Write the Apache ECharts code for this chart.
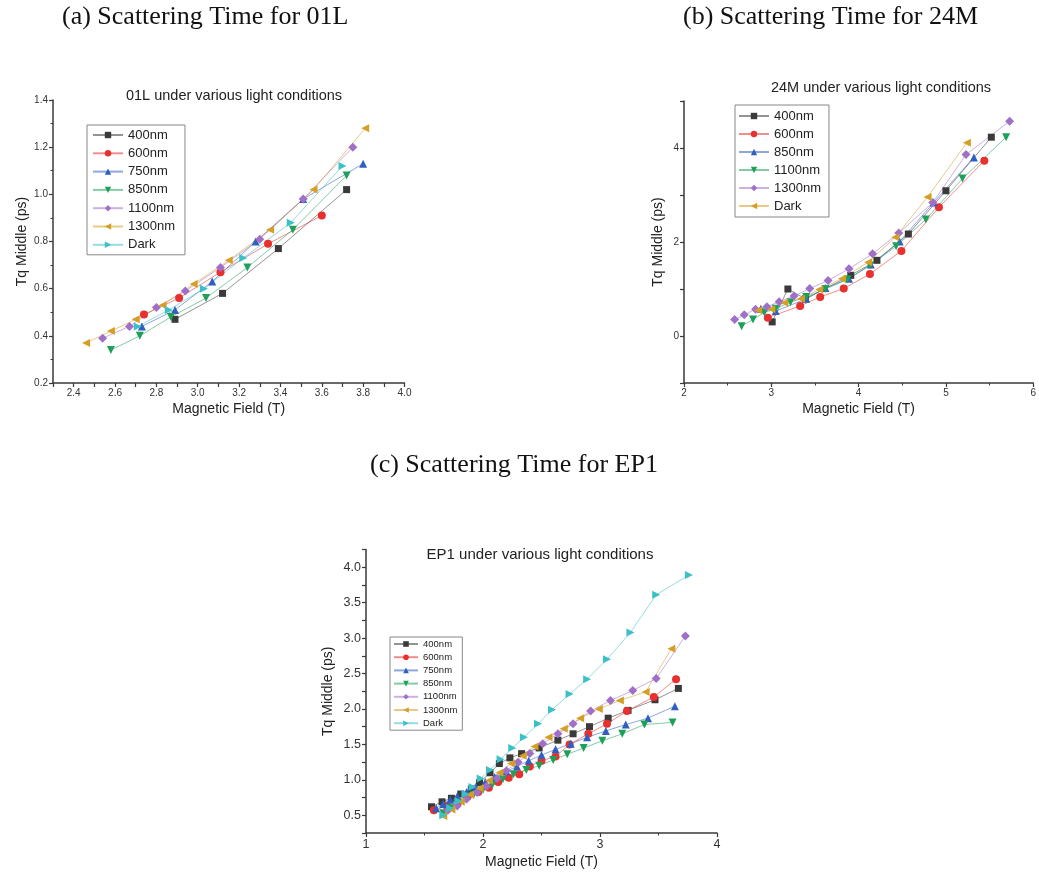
<!DOCTYPE html>
<html><head><meta charset="utf-8">
<script src="https://cdn.jsdelivr.net/npm/echarts@6/dist/echarts.min.js"></script>
<style>html,body{margin:0;padding:0;background:#fff}#c{width:1039px;height:880px}</style>
</head><body><div id="c"></div>
<script>
// ---------- Panel (a): 01L ----------
const a400  = [[2.89,0.47],[3.12,0.58],[3.39,0.77],[3.72,1.02]];
const a600  = [[2.74,0.49],[2.91,0.56],[3.11,0.67],[3.34,0.79],[3.60,0.91]];
const a750  = [[2.73,0.44],[2.89,0.51],[3.07,0.63],[3.28,0.80],[3.51,0.98],[3.80,1.13]];
const a850  = [[2.58,0.34],[2.72,0.40],[2.87,0.48],[3.04,0.56],[3.24,0.69],[3.46,0.85],[3.72,1.08]];
const a1100 = [[2.54,0.39],[2.67,0.44],[2.80,0.52],[2.94,0.59],[3.11,0.69],[3.30,0.81],[3.51,0.98],[3.75,1.20]];
const a1300 = [[2.46,0.37],[2.58,0.42],[2.70,0.47],[2.83,0.53],[2.98,0.62],[3.15,0.72],[3.35,0.85],[3.56,1.02],[3.81,1.28]];
const aDark = [[2.71,0.44],[2.86,0.51],[3.03,0.60],[3.22,0.73],[3.45,0.88],[3.70,1.12]];

// ---------- Panel (b): 24M ----------
const b400  = [[3.01,0.30],[3.19,1.00],[3.39,0.79],[3.91,1.29],[4.21,1.61],[4.57,2.17],[5.00,3.09],[5.52,4.23]];
const b600  = [[2.96,0.39],[3.33,0.64],[3.56,0.83],[3.83,1.01],[4.13,1.32],[4.49,1.81],[4.92,2.74],[5.44,3.73]];
const b850  = [[2.88,0.58],[3.05,0.53],[3.40,0.79],[3.62,1.02],[3.89,1.22],[4.14,1.52],[4.47,2.01],[4.86,2.84],[5.32,3.80]];
const b1100 = [[2.66,0.21],[2.79,0.35],[2.92,0.50],[3.05,0.58],[3.22,0.72],[3.40,0.83],[3.62,1.00],[3.87,1.20],[4.13,1.50],[4.43,1.91],[4.77,2.48],[5.19,3.35],[5.69,4.23]];
const b1300 = [[2.58,0.35],[2.69,0.45],[2.82,0.57],[2.95,0.62],[3.09,0.73],[3.26,0.85],[3.44,1.01],[3.65,1.18],[3.89,1.43],[4.16,1.75],[4.46,2.19],[4.85,2.84],[5.23,3.86],[5.73,4.57]];
const bDark = [[2.85,0.55],[3.00,0.57],[3.15,0.71],[3.34,0.79],[3.55,0.99],[3.81,1.22],[4.11,1.57],[4.42,2.10],[4.79,2.96],[5.24,4.11]];

// ---------- Panel (c): EP1 ----------
const c400  = [[1.56,0.62],[1.65,0.69],[1.73,0.74],[1.81,0.80],[1.90,0.87],[1.97,0.96],[2.06,1.10],[2.14,1.23],[2.23,1.31],[2.33,1.37],[2.48,1.45],[2.64,1.56],[2.77,1.65],[2.91,1.75],[3.07,1.87],[3.24,1.98],[3.47,2.13],[3.67,2.29]];
const c600  = [[1.58,0.57],[1.69,0.63],[1.79,0.69],[1.87,0.77],[1.96,0.83],[2.05,0.89],[2.13,0.97],[2.22,1.03],[2.31,1.08],[2.40,1.19],[2.50,1.27],[2.62,1.33],[2.74,1.50],[2.90,1.65],[3.06,1.79],[3.23,1.97],[3.46,2.17],[3.65,2.42]];
const c750  = [[1.60,0.60],[1.66,0.66],[1.72,0.72],[1.78,0.77],[1.86,0.83],[1.94,0.90],[2.02,0.97],[2.10,1.04],[2.20,1.12],[2.29,1.19],[2.39,1.27],[2.50,1.35],[2.62,1.43],[2.75,1.51],[2.89,1.60],[3.05,1.69],[3.22,1.78],[3.41,1.87],[3.64,2.04]];
const c850  = [[1.66,0.53],[1.72,0.60],[1.78,0.67],[1.85,0.73],[1.92,0.79],[2.00,0.86],[2.08,0.93],[2.17,1.01],[2.26,1.08],[2.37,1.14],[2.48,1.20],[2.60,1.28],[2.72,1.36],[2.86,1.45],[3.02,1.55],[3.19,1.65],[3.38,1.78],[3.62,1.81]];
const c1100 = [[1.70,0.57],[1.78,0.63],[1.86,0.73],[1.95,0.82],[2.03,0.91],[2.12,1.02],[2.20,1.13],[2.30,1.25],[2.40,1.37],[2.51,1.51],[2.64,1.65],[2.77,1.79],[2.92,1.97],[3.09,2.12],[3.28,2.26],[3.48,2.43],[3.73,3.03]];
const c1300 = [[1.66,0.49],[1.73,0.58],[1.81,0.69],[1.89,0.79],[1.97,0.88],[2.05,0.99],[2.14,1.10],[2.24,1.23],[2.34,1.34],[2.44,1.47],[2.56,1.60],[2.69,1.72],[2.83,1.87],[2.99,2.00],[3.17,2.12],[3.39,2.24],[3.61,2.85]];
const cDark = [[1.66,0.50],[1.72,0.60],[1.79,0.70],[1.85,0.80],[1.91,0.90],[1.98,1.02],[2.06,1.14],[2.15,1.29],[2.25,1.45],[2.35,1.60],[2.47,1.79],[2.59,1.99],[2.74,2.21],[2.89,2.42],[3.06,2.70],[3.26,3.08],[3.48,3.61],[3.76,3.89]];

// names shown in each legend
const namesA = ['400nm','600nm','750nm','850nm','1100nm','1300nm','Dark'];
const namesB = ['400nm','600nm','850nm','1100nm','1300nm','Dark'];
const namesC = ['400nm','600nm','750nm','850nm','1100nm','1300nm','Dark'];

const SANS = 'Liberation Sans, Arial, sans-serif';
const SERIF = 'Liberation Serif, Times New Roman, serif';
const ST = {
  sq: {color:'#3a3a3a', symbol:'rect', size:7},
  ci: {color:'#e8302e', symbol:'circle', size:8},
  up: {color:'#2f5fbf', symbol:'triangle', size:8},
  dn: {color:'#1fa05a', symbol:'path://M0,0L10,0L5,9Z', size:8},
  di: {color:'#a070c8', symbol:'diamond', size:9},
  lt: {color:'#d59f25', symbol:'path://M9,0L9,10L0,5Z', size:8},
  rt: {color:'#3cc0c8', symbol:'path://M0,0L0,10L9,5Z', size:8}
};

function ser(p, idx, name, data, st){
  return {
    type:'line', name: p + '_' + name, xAxisIndex: idx, yAxisIndex: idx,
    data: data, symbol: st.symbol, symbolSize: st.size, showAllSymbol: true,
    itemStyle: {color: st.color, opacity: 1},
    lineStyle: {color: st.color, width: 1, opacity: 0.55},
    emphasis: {disabled: true}, animation: false
  };
}

const series = [
  ser('a',0,'400nm',a400,ST.sq), ser('a',0,'600nm',a600,ST.ci), ser('a',0,'750nm',a750,ST.up),
  ser('a',0,'850nm',a850,ST.dn), ser('a',0,'1100nm',a1100,ST.di), ser('a',0,'1300nm',a1300,ST.lt),
  ser('a',0,'Dark',aDark,ST.rt),
  ser('b',1,'400nm',b400,ST.sq), ser('b',1,'600nm',b600,ST.ci), ser('b',1,'850nm',b850,ST.up),
  ser('b',1,'1100nm',b1100,ST.dn), ser('b',1,'1300nm',b1300,ST.di), ser('b',1,'Dark',bDark,ST.lt),
  ser('c',2,'400nm',c400,ST.sq), ser('c',2,'600nm',c600,ST.ci), ser('c',2,'750nm',c750,ST.up),
  ser('c',2,'850nm',c850,ST.dn), ser('c',2,'1100nm',c1100,ST.di), ser('c',2,'1300nm',c1300,ST.lt),
  ser('c',2,'Dark',cDark,ST.rt)
];

const axLine = {show:true, onZero:false, lineStyle:{color:'#3a3a3a', width:1.5}};
const tick = {show:true, inside:false, length:4, lineStyle:{color:'#3a3a3a', width:1.2}};
const minor = {show:true, splitNumber:2, length:2.5, lineStyle:{color:'#3a3a3a', width:1}};

function axis(o){
  return Object.assign({
    type:'value', nameLocation:'middle', splitLine:{show:false},
    axisLine: axLine, axisTick: tick,
    nameTextStyle:{fontFamily:SANS, fontSize:14, color:'#222'}
  }, o);
}
const lab = (fs, fmt) => ({color:'#333', fontFamily:SANS, fontSize:fs, margin:5, formatter:fmt});

const xAxis = [
  axis({gridIndex:0, min:2.3, max:4.0, interval:0.1, name:'Magnetic Field (T)', nameGap:19,
        axisLabel: lab(10, v => (Math.round(v*10)%2===0) ? v.toFixed(1) : '')}),
  axis({gridIndex:1, min:2, max:6, interval:1, name:'Magnetic Field (T)', nameGap:19, minorTick:minor,
        axisLabel: lab(10, v => String(Math.round(v)))}),
  axis({gridIndex:2, min:1, max:4, interval:1, name:'Magnetic Field (T)', nameGap:22, minorTick:minor,
        axisLabel: lab(12.5, v => String(Math.round(v)))})
];
const yAxis = [
  axis({gridIndex:0, min:0.2, max:1.4, interval:0.2, name:'Tq Middle (ps)', nameGap:24, minorTick:minor,
        axisLabel: lab(10, v => v.toFixed(1))}),
  axis({gridIndex:1, min:-1, max:5, interval:1, name:'Tq Middle (ps)', nameGap:19,
        axisLabel: lab(10, v => (Math.round(v)%2===0) ? String(Math.round(v)) : '')}),
  axis({gridIndex:2, min:0.25, max:4.25, interval:0.25, name:'Tq Middle (ps)', nameGap:31,
        axisLabel: lab(12.5, v => (Math.round(v*4)%2===0) ? v.toFixed(1) : '')})
];

const grid = [
  {left:53, top:100, width:351.5, height:283},
  {left:684, top:101, width:352, height:282},
  {left:366, top:549.5, width:351, height:283.5}
];

function leg(p, names, left, top, fs, lh, iw, ih, gap, pad){
  return {
    orient:'vertical', left:left, top:top, data: names.map(n => p + '_' + n),
    formatter: n => n.slice(2), itemWidth: iw, itemHeight: ih, itemGap: gap,
    padding: pad, borderColor:'#888', borderWidth:1, backgroundColor:'#fff',
    textStyle:{fontFamily:SANS, fontSize:fs, lineHeight:lh, color:'#222'},
    selectedMode:false
  };
}
const legend = [
  leg('a', namesA, 87, 125, 13, 14, 30, 8, 4.3, [3,10,3,5]),
  leg('b', namesB, 735, 105, 13, 14, 30, 8, 4, [4,8,4,3]),
  leg('c', namesC, 390, 637, 9.5, 10, 24, 7, 3.2, [2,5,2,3])
];

const capStyle = {fontFamily:SERIF, fontSize:26, fontWeight:'normal', color:'#111'};
const inStyle = {fontFamily:SANS, fontSize:14.5, fontWeight:'normal', color:'#222'};
const title = [
  {text:'(a) Scattering Time for 01L', left:62, top:4, padding:0, textStyle:capStyle},
  {text:'(b) Scattering Time for 24M', left:683, top:4, padding:0, textStyle:capStyle},
  {text:'(c) Scattering Time for EP1', left:370, top:452, padding:0, textStyle:capStyle},
  {text:'01L under various light conditions', left:234, textAlign:'center', top:88, padding:0, textStyle:inStyle},
  {text:'24M under various light conditions', left:881, textAlign:'center', top:80, padding:0, textStyle:inStyle},
  {text:'EP1 under various light conditions', left:540, textAlign:'center', top:547, padding:0, textStyle:Object.assign({}, inStyle, {fontSize:15})}
];

const chart = echarts.init(document.getElementById('c'));
chart.setOption({
  backgroundColor:'#fff', animation:false,
  title, legend, grid, xAxis, yAxis, series
});
</script></body></html>
